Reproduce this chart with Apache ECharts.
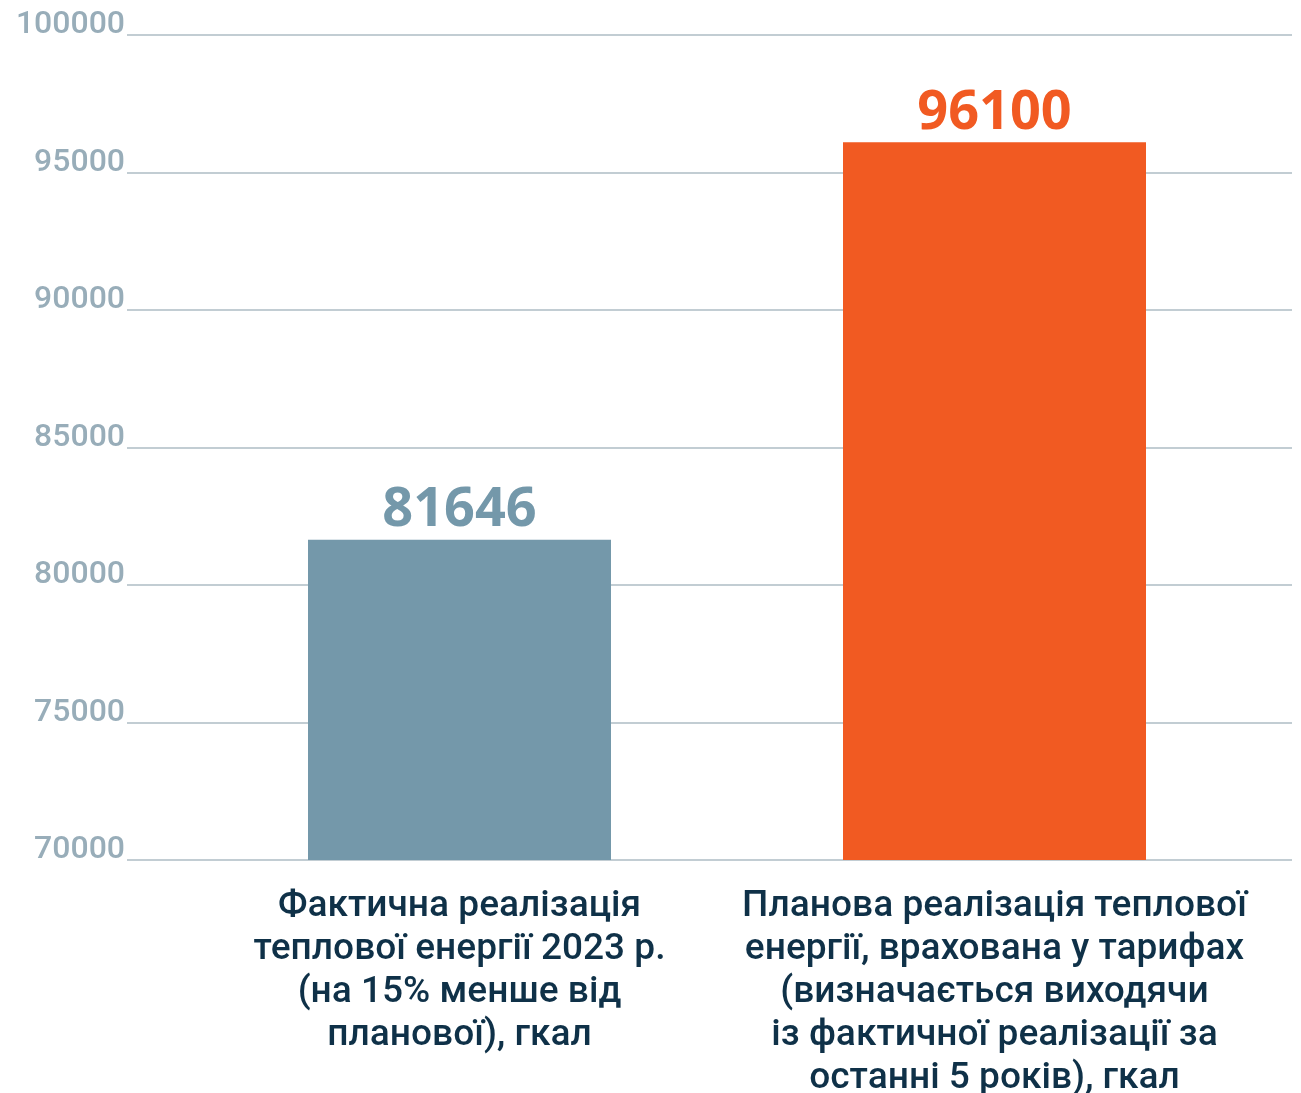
<!DOCTYPE html>
<html>
<head>
<meta charset="utf-8">
<script src="https://cdn.jsdelivr.net/npm/echarts@6/dist/echarts.min.js"></script>
<style>
  html, body { margin: 0; padding: 0; background: #fff; }
  #chart { width: 1301px; height: 1093px; }
</style>
</head>
<body>
<div id="chart"></div>
<script>
const categories = [
    'Фактична реалізація\nтеплової енергії 2023 р.\n(на 15% менше від\nпланової), гкал',
    'Планова реалізація теплової\nенергії, врахована у тарифах\n(визначається виходячи\nіз фактичної реалізації за\nостанні 5 років), гкал'
];
const values = [81646, 96100];
const yMin = 70000;
const yMax = 100000;
const yStep = 5000;

const barColors = ['#7498aa', '#f15a22'];

const chart = echarts.init(document.getElementById('chart'));

const option = {
    animation: false,
    grid: [
        // сітка з лініями і підписами осі Y
        { left: 127, right: 9, top: 35, bottom: 233, outerBoundsMode: 'none' },
        // сітка для стовпців
        { left: 192, right: 39, top: 35, bottom: 233, outerBoundsMode: 'none' }
    ],
    xAxis: [
        {
            gridIndex: 0,
            type: 'value',
            min: 0,
            max: 1,
            show: false
        },
        {
            gridIndex: 1,
            type: 'category',
            data: categories,
            axisLine: { show: false },
            axisTick: { show: false },
            axisLabel: {
                interval: 0,
                margin: 24,
                color: '#0f3148',
                fontFamily: '"Roboto Medium", Roboto',
                fontWeight: 500,
                fontSize: 37,
                lineHeight: 43,
                align: 'center'
            }
        }
    ],
    yAxis: [
        {
            gridIndex: 0,
            type: 'value',
            min: yMin,
            max: yMax,
            interval: yStep,
            axisLine: { show: false },
            axisTick: { show: false },
            axisLabel: {
                margin: 2,
                verticalAlign: 'bottom',
                lineHeight: 22,
                color: '#98adb9',
                fontFamily: '"Roboto Medium", Roboto',
                fontWeight: 500,
                fontSize: 32,
                formatter: v => String(v)
            },
            splitLine: {
                lineStyle: { color: '#aebcc5', width: 1.5 }
            }
        },
        {
            gridIndex: 1,
            type: 'value',
            min: yMin,
            max: yMax,
            show: false
        }
    ],
    series: [
        {
            type: 'bar',
            xAxisIndex: 1,
            yAxisIndex: 1,
            barWidth: 303,
            data: values.map((v, i) => ({
                value: v,
                itemStyle: { color: barColors[i] },
                label: { color: barColors[i] }
            })),
            label: {
                show: true,
                position: 'top',
                distance: 2,
                fontFamily: 'Open Sans',
                fontWeight: 'bold',
                fontSize: 54
            }
        }
    ]
};

chart.setOption(option);

window.addEventListener('resize', () => chart.resize());
</script>
</body>
</html>
